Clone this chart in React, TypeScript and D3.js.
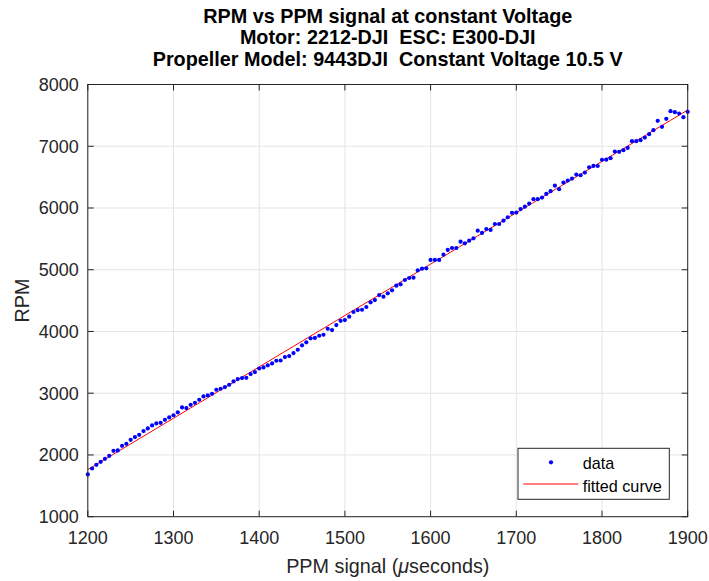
import React from "react";
import * as d3 from "d3";

const ppm: number[] = d3.range(1200, 1901, 5);
const rpm: number[] = [
  1684, 1781, 1840, 1888, 1937, 1986, 2067, 2073, 2148, 2180,
  2245, 2289, 2326, 2386, 2430, 2478, 2511, 2521, 2569, 2608,
  2643, 2690, 2770, 2759, 2812, 2845, 2894, 2948, 2964, 2991,
  3056, 3072, 3099, 3137, 3191, 3229, 3245, 3250, 3310, 3342,
  3400, 3418, 3451, 3483, 3526, 3530, 3585, 3602, 3650, 3704,
  3775, 3824, 3889, 3895, 3931, 3947, 4044, 4023, 4104, 4172,
  4185, 4240, 4315, 4347, 4352, 4396, 4472, 4509, 4590, 4563,
  4618, 4667, 4741, 4764, 4834, 4866, 4871, 4991, 5017, 5023,
  5158, 5158, 5158, 5244, 5320, 5352, 5352, 5455, 5428, 5471,
  5509, 5633, 5596, 5660, 5644, 5741, 5741, 5795, 5850, 5922,
  5925, 5983, 6022, 6071, 6142, 6142, 6168, 6228, 6272, 6362,
  6304, 6411, 6444, 6476, 6541, 6530, 6573, 6660, 6682, 6680,
  6781, 6782, 6807, 6914, 6909, 6936, 6973, 7082, 7082, 7098,
  7140, 7195, 7260, 7411, 7314, 7444, 7568, 7552, 7530, 7471,
  7557,
];
const xTicks: number[] = [1200, 1300, 1400, 1500, 1600, 1700, 1800, 1900];
const yTicks: number[] = [1000, 2000, 3000, 4000, 5000, 6000, 7000, 8000];
const titleLines: string[] = [
  "RPM vs PPM signal at constant Voltage",
  "Motor: 2212-DJI  ESC: E300-DJI",
  "Propeller Model: 9443DJI  Constant Voltage 10.5 V",
];
const legendLabels: string[] = ["data", "fitted curve"];

// least squares linear fit
function linFit(xs: number[], ys: number[]) {
  const mx = d3.mean(xs)!;
  const my = d3.mean(ys)!;
  let sxy = 0, sxx = 0;
  xs.forEach((x, i) => {
    sxy += (x - mx) * (ys[i] - my);
    sxx += (x - mx) * (x - mx);
  });
  const b = sxy / sxx;
  return { a: my - b * mx, b };
}

const W = 709, H = 581;
const L = 87.8, R = 687.7, T = 84.5, B = 516.7;
const font = "'Liberation Sans', Arial, Helvetica, sans-serif";
const axisCol = "#262626";

export default function App() {
  const x = d3.scaleLinear().domain([1200, 1900]).range([L, R]);
  const y = d3.scaleLinear().domain([1000, 8000]).range([B, T]);
  const fit = linFit(ppm, rpm);
  const fitX = d3.range(1200, 1901, 10);
  const line = d3
    .line<number>()
    .x((d) => x(d))
    .y((d) => y(fit.a + fit.b * d));
  const tick = 6;
  const lx = 518, ly = 448.3, lw = 151.3, lh = 51;
  return (
    <svg
      width={W}
      height={H}
      style={{ position: "absolute", left: 0, top: 0, background: "#fff" }}
      fontFamily={font}
    >
      <rect x={0} y={0} width={W} height={H} fill="#fff" />
      {xTicks.map((t) => (
        <line key={"gx" + t} x1={x(t)} x2={x(t)} y1={T} y2={B} stroke="#e5e5e5" strokeWidth={1} />
      ))}
      {yTicks.map((t) => (
        <line key={"gy" + t} x1={L} x2={R} y1={y(t)} y2={y(t)} stroke="#e5e5e5" strokeWidth={1} />
      ))}
      <path d={line(fitX) || ""} fill="none" stroke="#ff0000" strokeWidth={1} />
      {ppm.map((p, i) => (
        <circle key={"d" + i} cx={x(p)} cy={y(rpm[i])} r={2.1} fill="#0000ff" />
      ))}
      <rect x={L} y={T} width={R - L} height={B - T} fill="none" stroke={axisCol} strokeWidth={1} />
      {xTicks.map((t) => (
        <g key={"tx" + t}>
          <line x1={x(t)} x2={x(t)} y1={B} y2={B - tick} stroke={axisCol} />
          <line x1={x(t)} x2={x(t)} y1={T} y2={T + tick} stroke={axisCol} />
          <text x={x(t)} y={544} textAnchor="middle" fontSize={18} fill={axisCol}>
            {t}
          </text>
        </g>
      ))}
      {yTicks.map((t) => (
        <g key={"ty" + t}>
          <line x1={L} x2={L + tick} y1={y(t)} y2={y(t)} stroke={axisCol} />
          <line x1={R} x2={R - tick} y1={y(t)} y2={y(t)} stroke={axisCol} />
          <text x={L - 9} y={y(t) + 6.3} textAnchor="end" fontSize={18} fill={axisCol}>
            {t}
          </text>
        </g>
      ))}
      <text x={(L + R) / 2} y={573} textAnchor="middle" fontSize={19.8} fill={axisCol}>
        PPM signal (<tspan fontStyle="italic">μ</tspan>seconds)
      </text>
      <text
        transform={`translate(29,${(T + B) / 2}) rotate(-90)`}
        textAnchor="middle"
        fontSize={19.8}
        fill={axisCol}
      >
        RPM
      </text>
      {titleLines.map((s, i) => (
        <text
          key={"t" + i}
          x={(L + R) / 2}
          y={22.7 + i * 21.7}
          textAnchor="middle"
          fontSize={19.8}
          fontWeight="bold"
          fill="#000"
          style={{ whiteSpace: "pre" }}
        >
          {s}
        </text>
      ))}
      <rect x={lx} y={ly} width={lw} height={lh} fill="#fff" stroke={axisCol} strokeWidth={1} />
      <circle cx={551} cy={462.3} r={2.1} fill="#0000ff" />
      <text x={582.7} y={469} fontSize={16.2} fill="#000">
        {legendLabels[0]}
      </text>
      <line x1={523.3} x2={578.3} y1={484} y2={484} stroke="#ff0000" strokeWidth={1} />
      <text x={582.7} y={491.5} fontSize={16.2} fill="#000">
        {legendLabels[1]}
      </text>
    </svg>
  );
}
